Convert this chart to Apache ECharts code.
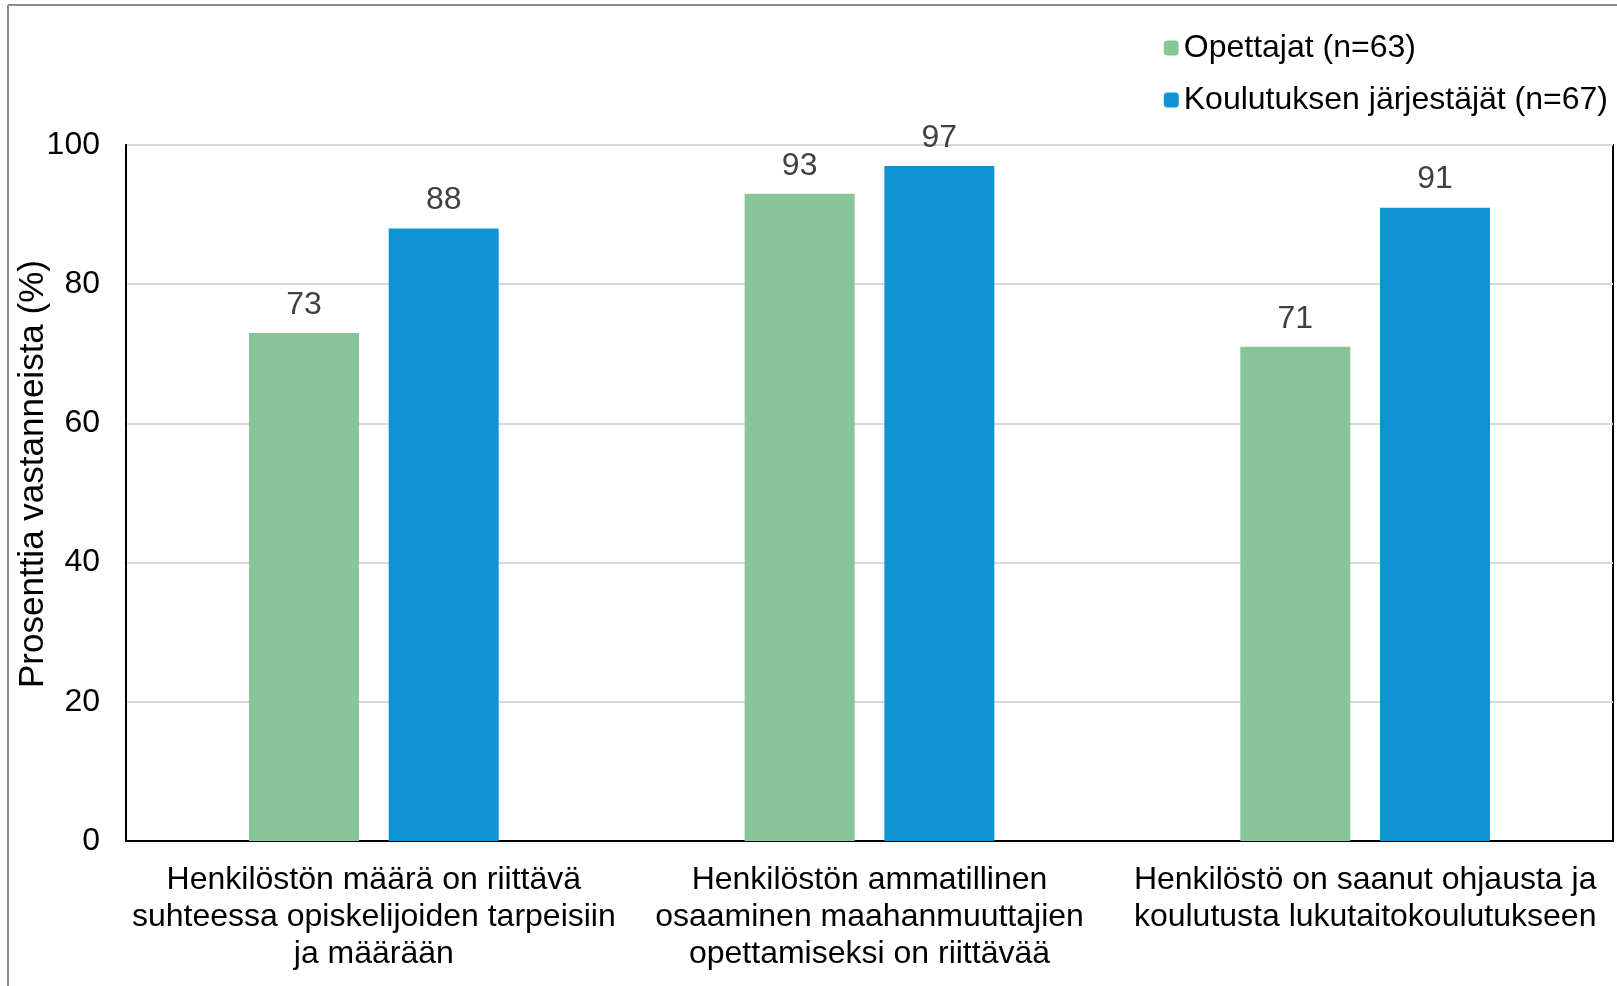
<!DOCTYPE html>
<html><head><meta charset="utf-8">
<script src="https://cdn.jsdelivr.net/npm/echarts@6/dist/echarts.min.js"></script>
<style>html,body{margin:0;padding:0;background:#fff}#c{width:1617px;height:986px}</style>
</head><body><div id="c"></div>
<script>
const categories = [
  'Henkilöstön määrä on riittävä\nsuhteessa opiskelijoiden tarpeisiin\nja määrään',
  'Henkilöstön ammatillinen\nosaaminen maahanmuuttajien\nopettamiseksi on riittävää',
  'Henkilöstö on saanut ohjausta ja\nkoulutusta lukutaitokoulutukseen'
];
const seriesNames = ['Opettajat (n=63)', 'Koulutuksen järjestäjät (n=67)'];
const teachers = [73, 93, 71];
const providers = [88, 97, 91];
const yTicks = [0, 20, 40, 60, 80, 100];

const font = 'Liberation Sans, Arial, sans-serif';
const chart = echarts.init(document.getElementById('c'));
chart.setOption({
  animation: false,
  textStyle: { fontFamily: font },
  graphic: [
    { type: 'line', shape: { x1: 8, y1: 5, x2: 1617, y2: 5 }, style: { stroke: '#8c8c8c', lineWidth: 2 } },
    { type: 'line', shape: { x1: 8, y1: 5, x2: 8, y2: 986 }, style: { stroke: '#8c8c8c', lineWidth: 2 } }
  ],
  legend: {
    orient: 'vertical', right: 4, top: 27, itemWidth: 15, itemHeight: 15, itemGap: 20,
    textStyle: { fontSize: 32, color: '#000', fontFamily: font },
    data: seriesNames
  },
  grid: { left: 126, right: 4, top: 145, bottom: 145, show: true, borderColor: '#000', borderWidth: 2,
          containLabel: false, outerBoundsMode: 'none' },
  xAxis: {
    type: 'category', data: categories,
    axisLine: { lineStyle: { color: '#000', width: 2 } },
    axisTick: { show: false },
    axisLabel: { interval: 0, fontSize: 32, color: '#000', lineHeight: 37, margin: 21, fontFamily: font }
  },
  yAxis: {
    type: 'value', min: yTicks[0], max: yTicks[yTicks.length - 1], interval: 20,
    name: 'Prosenttia vastanneista (%)', nameLocation: 'middle', nameGap: 75, nameRotate: 90,
    nameMoveOverlap: false,
    nameTextStyle: { fontSize: 35, color: '#000', fontFamily: font, padding: [0, 0, 0, 38] },
    axisLine: { show: true, lineStyle: { color: '#000', width: 2 } },
    axisTick: { show: false },
    axisLabel: { fontSize: 32, color: '#000', margin: 26, fontFamily: font },
    splitLine: { lineStyle: { color: '#d9d9d9', width: 2 } }
  },
  series: [
    { name: seriesNames[0], type: 'bar', data: teachers, barWidth: 110, barGap: '27%',
      itemStyle: { color: '#88C69A' },
      label: { show: true, position: 'top', distance: 12, fontSize: 32, color: '#404040', fontFamily: font } },
    { name: seriesNames[1], type: 'bar', data: providers, barWidth: 110,
      itemStyle: { color: '#1093D2' },
      label: { show: true, position: 'top', distance: 12, fontSize: 32, color: '#404040', fontFamily: font } }
  ]
});
</script></body></html>
